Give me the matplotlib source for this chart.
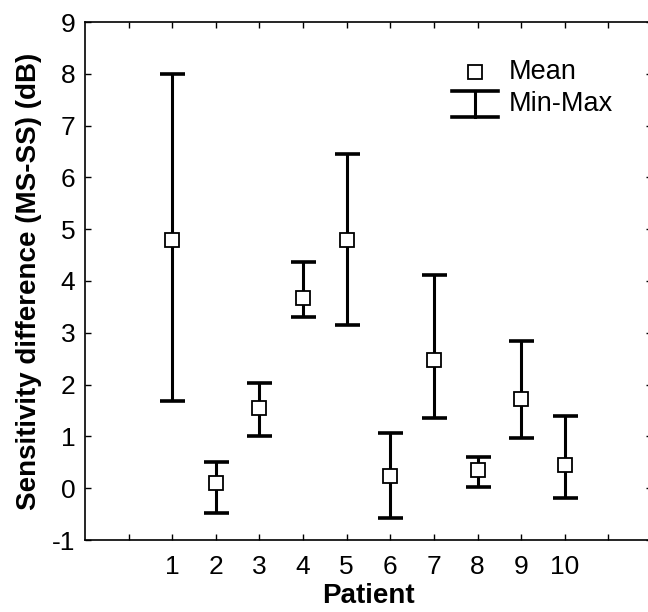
import matplotlib
matplotlib.use("Agg")
import matplotlib.pyplot as plt
from matplotlib.lines import Line2D

plt.rcParams['font.family'] = ['Liberation Sans', 'DejaVu Sans']
plt.rcParams['axes.unicode_minus'] = False

patients = [1, 2, 3, 4, 5, 6, 7, 8, 9, 10]
mean_vals = [4.80, 0.11, 1.54, 3.67, 4.80, 0.24, 2.47, 0.35, 1.73, 0.45]
min_vals = [1.69, -0.48, 1.00, 3.31, 3.15, -0.57, 1.36, 0.03, 0.97, -0.18]
max_vals = [8.00, 0.51, 2.04, 4.37, 6.45, 1.06, 4.11, 0.61, 2.84, 1.39]
x_ticks = list(range(0, 12))
x_ticklabels = ['' if t < 1 or t > 10 else str(t) for t in x_ticks]
y_ticks = list(range(-1, 10))

fig = plt.figure(figsize=(6.48, 6.12), dpi=100)
ax = fig.add_axes([85/648, 72/612, 567/648, 518/612])

lower = [m - lo for m, lo in zip(mean_vals, min_vals)]
upper = [hi - m for m, hi in zip(mean_vals, max_vals)]
ax.errorbar(patients, mean_vals, yerr=[lower, upper], fmt='none',
            ecolor='black', elinewidth=2.2, capsize=9, capthick=2.6, zorder=2)
ax.plot(patients, mean_vals, ls='none', marker='s', markersize=9.5,
        markerfacecolor='white', markeredgecolor='black', markeredgewidth=1.3, zorder=3)

ax.set_xlim(-1, 12)
ax.set_ylim(-1, 9)
ax.set_xticks(x_ticks)
ax.set_xticklabels(x_ticklabels)
ax.set_yticks(y_ticks)
ax.tick_params(axis='both', direction='in', length=4, width=1, labelsize=19,
               top=True, right=True)
ax.tick_params(axis='x', pad=11)
ax.tick_params(axis='y', pad=7)
for s in ax.spines.values():
    s.set_linewidth(1.2)

ax.set_xlabel('Patient', fontsize=20, fontweight='bold', labelpad=3)
ax.set_ylabel('Sensitivity difference (MS-SS) (dB)', fontsize=20, fontweight='bold', labelpad=7)

# legend glyphs (axes coordinates)
tr = ax.transAxes
ax.add_line(Line2D([0.688], [0.903], transform=tr, ls='none', marker='s', markersize=9.5,
                   markerfacecolor='white', markeredgecolor='black', markeredgewidth=1.3))
ax.add_line(Line2D([0.688, 0.688], [0.817, 0.867], transform=tr, color='black', lw=2.2))
ax.add_line(Line2D([0.648, 0.728], [0.867, 0.867], transform=tr, color='black', lw=2.6))
ax.add_line(Line2D([0.648, 0.728], [0.817, 0.817], transform=tr, color='black', lw=2.6))
ax.text(0.748, 0.903, 'Mean', transform=tr, fontsize=19.5, va='center', ha='left')
ax.text(0.748, 0.842, 'Min-Max', transform=tr, fontsize=19.5, va='center', ha='left')

fig.savefig('out.png', dpi=100)
